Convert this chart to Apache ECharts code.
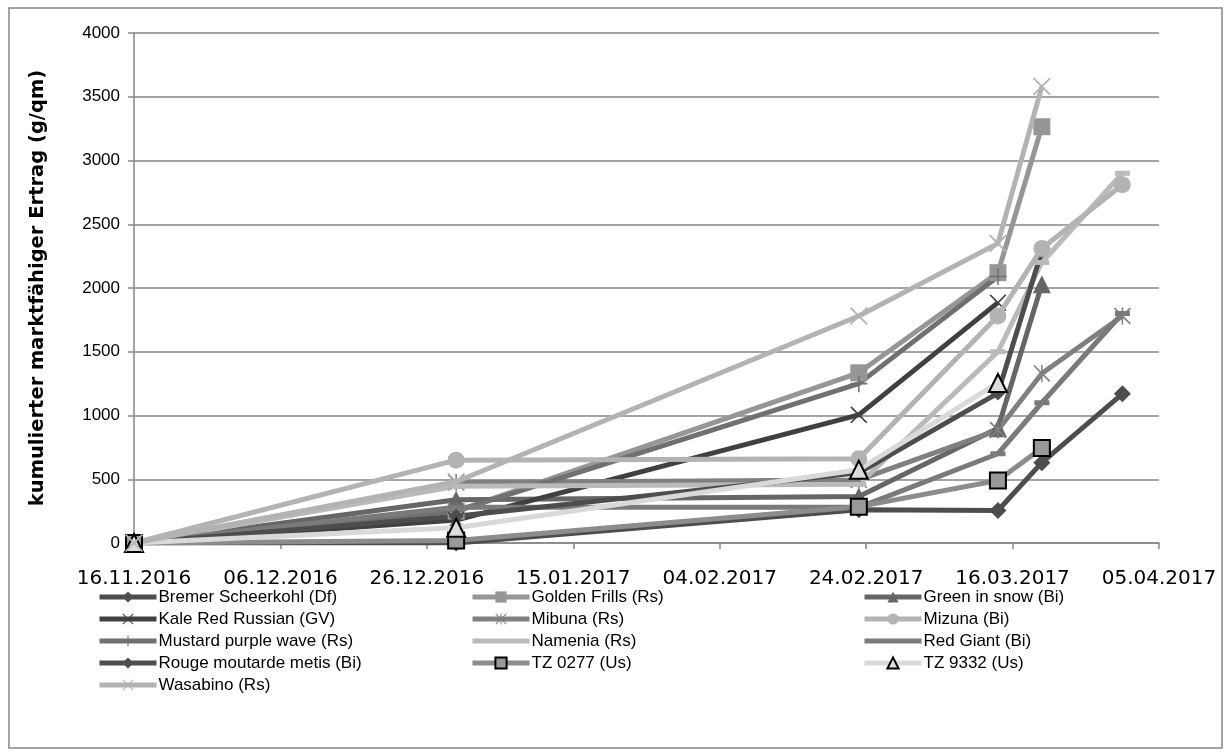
<!DOCTYPE html>
<html>
<head>
<meta charset="utf-8">
<script src="https://cdn.jsdelivr.net/npm/echarts@6/dist/echarts.min.js"></script>
<style>
  html, body { margin: 0; padding: 0; background: #fff; }
  #chart { width: 1232px; height: 756px; }
</style>
</head>
<body>
<div id="chart"></div>
<script>
// Harvest dates (Erntetermine)
const harvestDates = ['2016-11-16', '2016-12-30', '2017-02-23', '2017-03-14', '2017-03-20', '2017-03-31'];
// X-axis tick labels, one every 20 days from 16.11.2016
const xTickLabels = ['16.11.2016', '06.12.2016', '26.12.2016', '15.01.2017', '04.02.2017', '24.02.2017', '16.03.2017', '05.04.2017'];

// Cumulative marketable yield in g/qm per harvest date (null = no harvest)
const bremerScheerkohl   = [0, 0,   260,  255,  630,  1170];
const goldenFrills       = [0, 250, 1335, 2120, 3265, null];
const greenInSnow        = [0, 340, 365,  900,  2030, null];
const kaleRedRussian     = [0, 180, 1005, 1885, null, null];
const mibuna             = [0, 475, 495,  886,  1330, 1780];
const mizuna             = [0, 650, 660,  1780, 2310, 2810];
const mustardPurpleWave  = [0, 250, 1250, 2090, null, null];
const namenia            = [0, 445, 460,  1500, 2200, 2900];
const redGiant           = [0, 280, 280,  700,  1100, 1800];
const rougeMoutarde      = [0, 210, 550,  1176, 2290, null];
const tz0277             = [0, 20,  285,  490,  745,  null];
const tz9332             = [0, 120, 575,  1255, null, null];
const wasabino           = [0, 480, 1780, 2350, 3580, null];

const DAY = 86400000;
const startMs = Date.parse(harvestDates[0]);
const dayOffsets = harvestDates.map(d => (Date.parse(d) - startMs) / DAY);

// Marker shapes
const X_PATH = 'path://M0,1.4 L1.4,0 L10,8.6 L18.6,0 L20,1.4 L11.4,10 L20,18.6 L18.6,20 L10,11.4 L1.4,20 L0,18.6 L8.6,10 Z';
const STAR_PATH = X_PATH + ' M9.1,0 L10.9,0 L10.9,20 L9.1,20 Z';
const PLUS_PATH = 'path://M9.1,0 L10.9,0 L10.9,9.1 L20,9.1 L20,10.9 L10.9,10.9 L10.9,20 L9.1,20 L9.1,10.9 L0,10.9 L0,9.1 L9.1,9.1 Z';
const DASH_PATH = 'path://M0,0 L20,0 L20,6 L0,6 Z';
// Legend icon for the series whose dash marker disappears into the line
const BAR_ICON = 'path://M0,0 L57,0 L57,5 L0,5 Z';

function pairs(values) {
  const out = [];
  values.forEach((v, i) => { if (v !== null) out.push([dayOffsets[i], v]); });
  return out;
}

function makeSeries(name, values, lineColor, symbol, symbolSize, fill, border, z) {
  return {
    name: name,
    type: 'line',
    z: z || 2,
    data: pairs(values),
    symbol: symbol,
    symbolSize: symbolSize,
    symbolKeepAspect: false,
    showAllSymbol: true,
    lineStyle: { color: lineColor, width: 5 },
    itemStyle: {
      color: fill || lineColor,
      borderColor: border || (fill || lineColor),
      borderWidth: border ? 2 : 0
    },
    emphasis: { disabled: true }
  };
}

const series = [
  makeSeries('Bremer Scheerkohl (Df)', bremerScheerkohl, '#4d4d4d', 'diamond', 17),
  makeSeries('Golden Frills (Rs)', goldenFrills, '#969696', 'rect', 17),
  makeSeries('Green in snow (Bi)', greenInSnow, '#666666', 'triangle', 18),
  makeSeries('Kale Red Russian (GV)', kaleRedRussian, '#404040', X_PATH, 17),
  makeSeries('Mibuna (Rs)', mibuna, '#808080', STAR_PATH, 17),
  makeSeries('Mizuna (Bi)', mizuna, '#b3b3b3', 'circle', 17, null, null, 3),
  makeSeries('Mustard purple wave (Rs)', mustardPurpleWave, '#707070', PLUS_PATH, 17),
  makeSeries('Namenia (Rs)', namenia, '#bababa', DASH_PATH, [15, 5]),
  makeSeries('Red Giant (Bi)', redGiant, '#7a7a7a', DASH_PATH, [15, 5]),
  makeSeries('Rouge moutarde metis (Bi)', rougeMoutarde, '#4d4d4d', 'diamond', 15),
  makeSeries('TZ 0277 (Us)', tz0277, '#8c8c8c', 'rect', 16, '#999999', '#000000', 3),
  makeSeries('TZ 9332 (Us)', tz9332, '#d9d9d9', 'triangle', 18, '#dcdcdc', '#000000', 3),
  makeSeries('Wasabino (Rs)', wasabino, '#b3b3b3', X_PATH, 18, null, null, 3)
];

const legendCommon = {
  orient: 'vertical',
  top: 587,
  padding: 0,
  itemWidth: 57,
  itemHeight: 14,
  itemGap: 2,
  selectedMode: false,
  lineStyle: { width: 5 },
  textStyle: { fontFamily: 'Liberation Sans', fontSize: 17, color: '#000', lineHeight: 20, padding: [0, 0, 0, -3] }
};

const option = {
  animation: false,
  backgroundColor: '#ffffff',
  grid: { left: 134, right: 73, top: 33, bottom: 213, containLabel: false },
  xAxis: {
    type: 'value',
    min: 0,
    max: 140,
    interval: 20,
    axisLine: { show: true, onZero: false, lineStyle: { color: '#868686', width: 1.5 } },
    axisTick: { show: true, length: 6, lineStyle: { color: '#868686', width: 1.5 } },
    splitLine: { show: false },
    axisLabel: {
      formatter: v => xTickLabels[Math.round(v / 20)] || '',
      fontFamily: 'DejaVu Sans',
      fontSize: 20,
      color: '#000',
      margin: 26
    }
  },
  yAxis: {
    type: 'value',
    min: 0,
    max: 4000,
    interval: 500,
    name: 'kumulierter marktfähiger Ertrag (g/qm)',
    nameLocation: 'middle',
    nameGap: 86,
    nameTextStyle: { fontFamily: 'DejaVu Sans', fontWeight: 'bold', fontSize: 19.5, color: '#000' },
    axisLine: { show: true, lineStyle: { color: '#868686', width: 1.5 } },
    axisTick: { show: true, length: 6, lineStyle: { color: '#868686', width: 1.5 } },
    splitLine: { show: true, lineStyle: { color: '#868686', width: 1.5 } },
    axisLabel: { formatter: v => String(v), fontFamily: 'Liberation Sans', fontSize: 17, color: '#000', margin: 14 }
  },
  legend: [
    Object.assign({}, legendCommon, { left: 97, data: ['Bremer Scheerkohl (Df)', 'Kale Red Russian (GV)', 'Mustard purple wave (Rs)', 'Rouge moutarde metis (Bi)', 'Wasabino (Rs)'] }),
    Object.assign({}, legendCommon, { left: 470, data: ['Golden Frills (Rs)', 'Mibuna (Rs)', { name: 'Namenia (Rs)', icon: BAR_ICON }, 'TZ 0277 (Us)'] }),
    Object.assign({}, legendCommon, { left: 862, data: ['Green in snow (Bi)', 'Mizuna (Bi)', { name: 'Red Giant (Bi)', icon: BAR_ICON }, 'TZ 9332 (Us)'] })
  ],
  graphic: [{
    type: 'rect',
    silent: true,
    shape: { x: 9, y: 8, width: 1213, height: 740 },
    style: { fill: 'none', stroke: '#868686', lineWidth: 1.5 }
  }],
  series: series
};

const chart = echarts.init(document.getElementById('chart'), null, { renderer: 'canvas' });
chart.setOption(option);
</script>
</body>
</html>
